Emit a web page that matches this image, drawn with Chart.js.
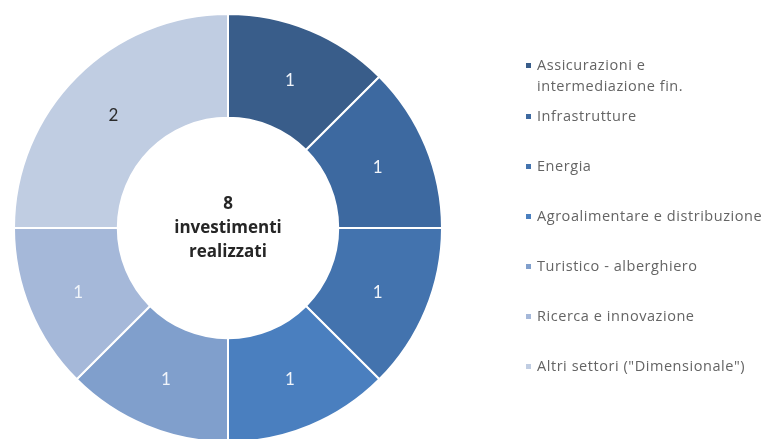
<!DOCTYPE html>
<html>
<head>
<meta charset="utf-8">
<script src="https://cdn.jsdelivr.net/npm/chart.js@4"></script>
<style>
html,body{margin:0;padding:0;background:#fff;overflow:hidden;}
#wrap{width:765px;height:439px;position:relative;}
</style>
</head>
<body>
<div id="wrap"><canvas id="c" width="765" height="439"></canvas></div>
<script>
const categories = [
  ["Assicurazioni e", "intermediazione fin."],
  "Infrastrutture",
  "Energia",
  "Agroalimentare e distribuzione",
  "Turistico - alberghiero",
  "Ricerca e innovazione",
  "Altri settori (\"Dimensionale\")"
];
const investimenti = [1, 1, 1, 1, 1, 1, 2];
const sliceColors = ["#395d8a", "#3d69a0", "#4373ae", "#4a7fbf", "#809fcc", "#a5b8d9", "#c0cde2"];
const labelColors = ["#f0f4fa", "#f0f4fa", "#f0f4fa", "#f0f4fa", "#f0f4fa", "#f0f4fa", "#2b2b2b"];
const centerLines = ["8", "investimenti", "realizzati"];

const valueLabels = {
  id: 'valueLabels',
  afterDatasetsDraw(chart) {
    const ctx = chart.ctx;
    const meta = chart.getDatasetMeta(0);
    const ds = chart.data.datasets[0];
    ctx.save();
    ctx.font = '17px Lato, "Open Sans", sans-serif';
    ctx.textAlign = 'center';
    ctx.textBaseline = 'middle';
    meta.data.forEach((arc, i) => {
      const p = arc.tooltipPosition();
      ctx.fillStyle = labelColors[i];
      ctx.fillText(String(ds.data[i]), p.x, p.y + 2);
    });
    // center text
    const a = meta.data[0];
    ctx.fillStyle = '#262626';
    ctx.font = 'bold 17px "Open Sans", Lato, sans-serif';
    const lh = 24;
    centerLines.forEach((t, k) => {
      ctx.fillText(t, a.x, a.y - 24 + k * lh);
    });
    ctx.restore();
  }
};

const sideLegend = {
  id: 'sideLegend',
  afterDraw(chart) {
    const ctx = chart.ctx;
    const labels = chart.data.labels;
    const colors = chart.data.datasets[0].backgroundColor;
    ctx.save();
    ctx.font = '14.5px "Open Sans", Lato, sans-serif';
    if ('letterSpacing' in ctx) ctx.letterSpacing = '0.55px';
    ctx.textAlign = 'left';
    ctx.textBaseline = 'middle';
    const x0 = 526, tx = 537;
    labels.forEach((lab, i) => {
      const y = i === 0 ? 66 : 117 + (i - 1) * 50;
      ctx.fillStyle = colors[i];
      ctx.fillRect(x0, y - 3, 5, 5);
      ctx.fillStyle = '#646464';
      const lines = Array.isArray(lab) ? lab : [lab];
      lines.forEach((ln, k) => ctx.fillText(ln, tx, y + k * 21));
    });
    ctx.restore();
  }
};

new Chart(document.getElementById('c'), {
  type: 'doughnut',
  data: {
    labels: categories,
    datasets: [{
      data: investimenti,
      backgroundColor: sliceColors,
      borderColor: '#ffffff',
      borderWidth: 2,
      radius: 214,
      cutout: '51.5%'
    }]
  },
  options: {
    responsive: false,
    animation: false,
    layout: { padding: { left: 14, right: 323, top: 17, bottom: 0 } },
    plugins: {
      legend: { display: false },
      tooltip: { enabled: false }
    }
  },
  plugins: [valueLabels, sideLegend]
});
</script>
</body>
</html>
